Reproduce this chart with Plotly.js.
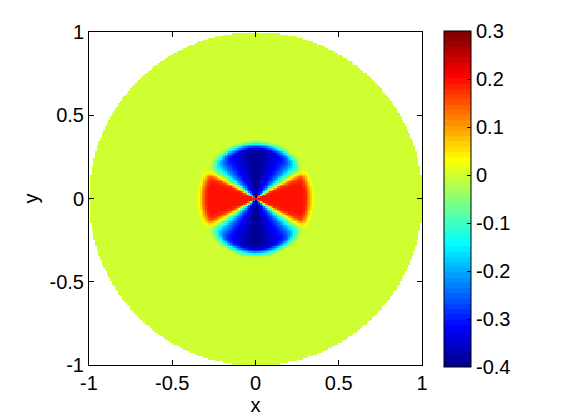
<!DOCTYPE html>
<html>
<head>
<meta charset="utf-8">
<script src="https://cdn.plot.ly/plotly-3.0.1.min.js"></script>
<style>
  html, body { margin: 0; padding: 0; background: #fff; }
  #chart { width: 561px; height: 420px; }
</style>
</head>
<body>
<div id="chart"></div>
<script>
// ---- data ----
// angular profile of the field inside the central blob (angle from x-axis, folded to 0..90 deg)
const angleDeg   = [0, 10, 20, 25, 30, 33, 40, 45, 53, 60, 70, 75, 80, 90];
const angularVal = [0.20, 0.20, 0.19, 0.17, 0.05, -0.02, -0.15, -0.22, -0.29, -0.32, -0.35, -0.365, -0.38, -0.395];
// radial envelope (fraction of the angular value kept at each radius)
const radius   = [0, 0.28, 0.30, 0.315, 0.33, 0.343, 0.355, 1.0];
const envelope = [1, 1, 0.9, 0.65, 0.35, 0.12, 0, 0];
// tick labels
const axisTicks     = [-1, -0.5, 0, 0.5, 1];
const axisTickText  = ["-1", "-0.5", "0", "0.5", "1"];
const cbarTicks     = [-0.4, -0.3, -0.2, -0.1, 0, 0.1, 0.2, 0.3];
const cbarTickText  = ["-0.4", "-0.3", "-0.2", "-0.1", "0", "0.1", "0.2", "0.3"];
const zRange = [-0.4, 0.3];
const gridStep = 0.01;

// ---- helpers ----
function lookup(xs, ys, v) {
  if (v <= xs[0]) return ys[0];
  for (let i = 1; i < xs.length; i++) {
    if (v <= xs[i]) {
      const t = (v - xs[i - 1]) / (xs[i] - xs[i - 1]);
      return ys[i - 1] + t * (ys[i] - ys[i - 1]);
    }
  }
  return ys[ys.length - 1];
}

// MATLAB jet(64)
function jet(m) {
  const n = Math.ceil(m / 4);
  const u = [];
  for (let i = 1; i <= n; i++) u.push(i / n);
  for (let i = 0; i < n - 1; i++) u.push(1);
  for (let i = n; i >= 1; i--) u.push(i / n);
  const off = Math.ceil(n / 2) - (m % 4 === 1 ? 1 : 0);
  const J = [];
  for (let i = 0; i < m; i++) J.push([0, 0, 0]);
  for (let k = 0; k < u.length; k++) {
    const g = off + k + 1;       // 1-based
    const r = g + n, b = g - n;
    if (r >= 1 && r <= m) J[r - 1][0] = u[k];
    if (g >= 1 && g <= m) J[g - 1][1] = u[k];
    if (b >= 1 && b <= m) J[b - 1][2] = u[k];
  }
  return J;
}
const J = jet(64);
const colorscale = [];
J.forEach((c, i) => {
  const col = 'rgb(' + c.map(v => Math.round(v * 255)).join(',') + ')';
  colorscale.push([i / 64, col]);
  colorscale.push([(i + 1) / 64, col]);
});

// ---- field on the disk ----
const xs = [], ys = [];
for (let i = 0; i <= Math.round(2 / gridStep); i++) { xs.push(-1 + i * gridStep); ys.push(-1 + i * gridStep); }
const z = ys.map(y => xs.map(x => {
  const r = Math.hypot(x, y);
  if (r > 1.0) return null;
  const a = Math.atan2(Math.abs(y), Math.abs(x)) * 180 / Math.PI;
  return lookup(angleDeg, angularVal, a) * lookup(radius, envelope, r);
}));

const font = { family: 'Liberation Sans, Arial, Helvetica, sans-serif', size: 20, color: '#000' };

const trace = {
  type: 'heatmap', x: xs, y: ys, z: z,
  zmin: zRange[0], zmax: zRange[1], zsmooth: false,
  colorscale: colorscale, hoverinfo: 'skip',
  colorbar: {
    x: (444 - 89) / 333, xanchor: 'left', xref: 'paper',
    y: (365 - 31) / 333, yanchor: 'top',
    lenmode: 'pixels', len: 336,
    thicknessmode: 'pixels', thickness: 27,
    xpad: 0, ypad: 0,
    outlinewidth: 1, outlinecolor: '#000',
    tickmode: 'array', tickvals: cbarTicks, ticktext: cbarTickText,
    ticks: 'inside', ticklen: 4, tickcolor: '#000', tickwidth: 1,
    tickfont: font
  }
};

const axisCommon = {
  range: [-1, 1], autorange: false,
  tickmode: 'array', tickvals: axisTicks, ticktext: axisTickText,
  ticks: 'inside', ticklen: 5, tickcolor: '#000', tickwidth: 1,
  showline: true, linecolor: '#000', linewidth: 1, mirror: 'ticks',
  showgrid: false, zeroline: false,
  tickfont: font
};

const layout = {
  width: 561, height: 420,
  margin: { l: 89, r: 139, t: 32, b: 55, pad: 0 },
  paper_bgcolor: '#fff', plot_bgcolor: '#fff',
  font: font,
  showlegend: false,
  xaxis: Object.assign({}, axisCommon, { title: { text: 'x', font: font, standoff: 4 } }),
  yaxis: Object.assign({}, axisCommon, { title: { text: 'y', font: font, standoff: 5 } })
};

Plotly.newPlot('chart', [trace], layout, { staticPlot: true, displayModeBar: false });
</script>
</body>
</html>
